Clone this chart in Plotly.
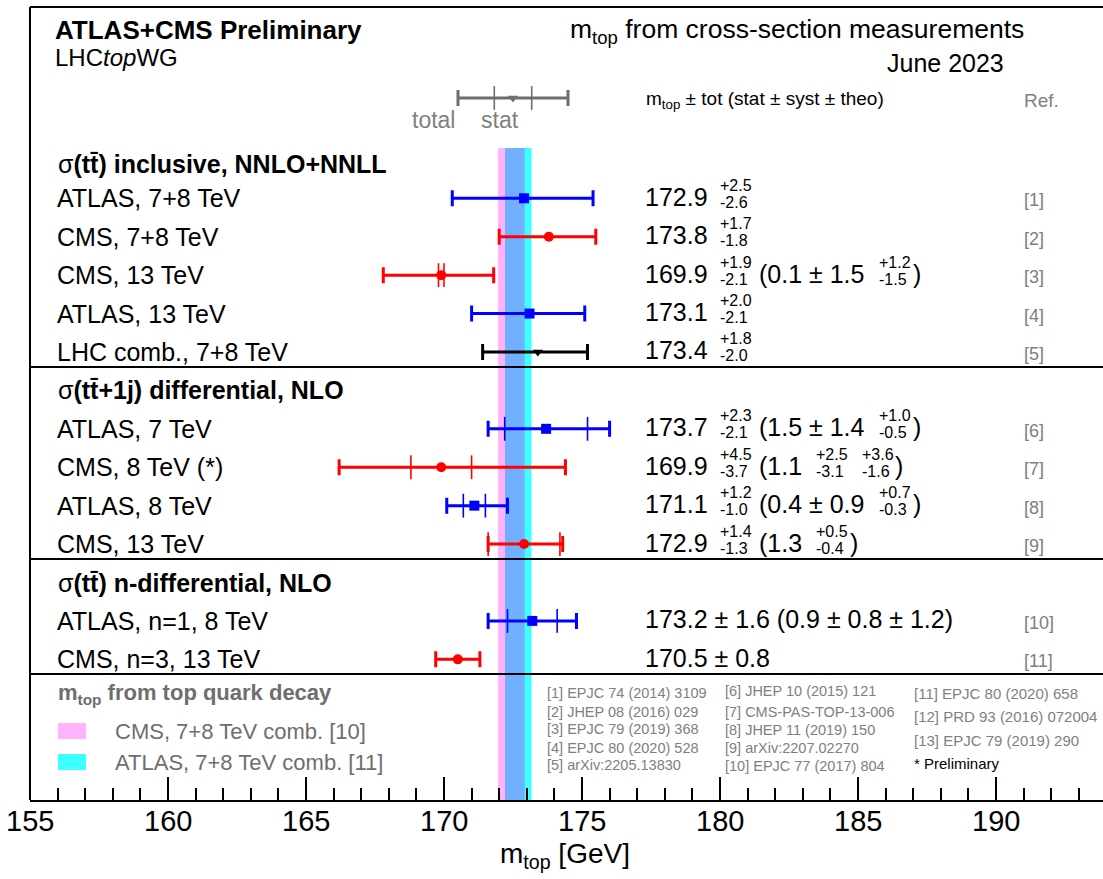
import plotly.graph_objects as go

# ---------------- measurements: m_top from cross sections ----------------
section_titles = [
    "σ<b>(tt̄) inclusive, NNLO+NNLL</b>",
    "σ<b>(tt̄+1j) differential, NLO</b>",
    "σ<b>(tt̄) n-differential, NLO</b>",
]
section_sizes = [5, 4, 2]

experiments = [
    "ATLAS, 7+8 TeV", "CMS, 7+8 TeV", "CMS, 13 TeV", "ATLAS, 13 TeV", "LHC comb., 7+8 TeV",
    "ATLAS, 7 TeV", "CMS, 8 TeV (*)", "ATLAS, 8 TeV", "CMS, 13 TeV",
    "ATLAS, n=1, 8 TeV", "CMS, n=3, 13 TeV",
]
ref_tags = ["[1]", "[2]", "[3]", "[4]", "[5]", "[6]", "[7]", "[8]", "[9]", "[10]", "[11]"]
mtop = [172.9, 173.8, 169.9, 173.1, 173.4, 173.7, 169.9, 171.1, 172.9, 173.2, 170.5]
tot_up = [2.5, 1.7, 1.9, 2.0, 1.8, 2.3, 4.5, 1.2, 1.4, 1.6, 0.8]
tot_dn = [2.6, 1.8, 2.1, 2.1, 2.0, 2.1, 3.7, 1.0, 1.3, 1.6, 0.8]
stat = [None, None, 0.1, None, None, 1.5, 1.1, 0.4, 1.3, 0.9, None]
syst_up = [None, None, 1.5, None, None, 1.4, 2.5, 0.9, None, 0.8, None]
syst_dn = [None, None, 1.5, None, None, 1.4, 3.1, 0.9, None, 0.8, None]
theo_up = [None, None, 1.2, None, None, 1.0, 3.6, 0.7, 0.5, 1.2, None]
theo_dn = [None, None, 1.5, None, None, 0.5, 1.6, 0.3, 0.4, 1.2, None]

# m_top from top-quark decay: combinations drawn as vertical bands
decay_labels = ["CMS, 7+8 TeV comb. [10]", "ATLAS, 7+8 TeV comb. [11]"]
decay_mtop = [172.44, 172.69]
decay_unc = [0.48, 0.48]

# bibliography
refs_col1 = ["[1] EPJC 74 (2014) 3109", "[2] JHEP 08 (2016) 029", "[3] EPJC 79 (2019) 368",
             "[4] EPJC 80 (2020) 528", "[5] arXiv:2205.13830"]
refs_col2 = ["[6] JHEP 10 (2015) 121", "[7] CMS-PAS-TOP-13-006", "[8] JHEP 11 (2019) 150",
             "[9] arXiv:2207.02270", "[10] EPJC 77 (2017) 804"]
refs_col3 = ["[11] EPJC 80 (2020) 658", "[12] PRD 93 (2016) 072004", "[13] EPJC 79 (2019) 290",
             "* Preliminary"]

x_tick_vals = [155, 160, 165, 170, 175, 180, 185, 190]

# ---------------- geometry ----------------
W, H = 1103, 879
ML, MR, MT, MB = 30, 0, 7, 79
PLOT_H = H - MT - MB
PX_PER_GEV = 27.6
X_MIN = 155.0
X_MAX = X_MIN + (W - ML - MR) / PX_PER_GEV
ROW0_PX, ROW_PX = 198.3, 38.42          # pixel position of first row and row pitch
Y_TOP = (MT - ROW0_PX) / ROW_PX
Y_BOT = (H - MB - ROW0_PX) / ROW_PX

FONT = "Liberation Sans"
GRAY = "#6e6e6e"
LIGHT_GRAY = "#808080"
COLORS = {"ATLAS": "#0000ff", "CMS": "#ff0000", "LHC": "#000000"}
SYMBOLS = {"ATLAS": "square", "CMS": "circle", "LHC": "triangle-down"}
SIZES = {"ATLAS": 10, "CMS": 10, "LHC": 9}


def gx(px):
    return X_MIN + (px - ML) / PX_PER_GEV


def gy(py):
    return (py - ROW0_PX) / ROW_PX


def py_paper(py):
    return (H - MB - py) / PLOT_H


# Arial/Liberation advance widths (em) for the glyphs used in the value column
ADV = {".": 0.278, " ": 0.278, "±": 0.584, "+": 0.584, "-": 0.333, "(": 0.333, ")": 0.333}


def text_width(s, size):
    return sum(ADV.get(c, 0.556) for c in s) * size


# row positions (in row units): header takes one slot, then its rows
header_slots, row_slots = [], []
slot = -1
for n in section_sizes:
    header_slots.append(slot)
    row_slots.extend(range(slot + 1, slot + 1 + n))
    slot += n + 1

fig = go.Figure()
annotations = []
shapes = []


def add_text(x, y, text, size, color="black", xanchor="left", yshift=0, xref="x", yref="y"):
    annotations.append(dict(
        x=x, y=y, xref=xref, yref=yref, text=text, showarrow=False,
        xanchor=xanchor, yanchor="middle", yshift=yshift,
        font=dict(family=FONT, size=size, color=color),
    ))


# ---- bands from top-quark decay ----
lo = [m - u for m, u in zip(decay_mtop, decay_unc)]
hi = [m + u for m, u in zip(decay_mtop, decay_unc)]
band_y0 = gy(148)
for x0, x1, col in [(lo[0], hi[0], "#ffb3ff"), (lo[1], hi[1], "#3dffff"),
                    (max(lo), min(hi), "#70b0ff")]:
    shapes.append(dict(type="rect", xref="x", yref="y", x0=x0, x1=x1, y0=band_y0, y1=Y_BOT,
                       fillcolor=col, line=dict(width=0), layer="below"))

# ---- measurement error bars ----
for i, name in enumerate(experiments):
    key = name.split(",")[0].split(" ")[0]
    col = COLORS[key]
    y = row_slots[i]
    if stat[i] is not None:
        fig.add_trace(go.Scatter(
            x=[mtop[i] - stat[i], mtop[i] + stat[i]], y=[y, y], mode="markers",
            marker=dict(symbol="line-ns", size=17, line=dict(width=1.6, color=col)),
            hoverinfo="skip", showlegend=False))
    fig.add_trace(go.Scatter(
        x=[mtop[i]], y=[y], mode="markers",
        marker=dict(symbol=SYMBOLS[key], size=SIZES[key], color=col),
        error_x=dict(type="data", symmetric=False, array=[tot_up[i]], arrayminus=[tot_dn[i]],
                     color=col, thickness=3, width=8),
        showlegend=False, name=name))

    # label on the left
    add_text(gx(55), y, name, 25)

    # value column: m_top +up -down (stat +- syst +- theo)
    cx = 643
    SUP, SUB, MAIN = 16, 16, 25

    def block(up, dn):
        global cx
        add_text(gx(cx), y, f"+{up:.1f}", SUP, yshift=13)
        add_text(gx(cx), y, f"-{dn:.1f}", SUB, yshift=-4)
        cx += max(text_width(f"+{up:.1f}", SUP), text_width(f"-{dn:.1f}", SUB))

    def inline(s):
        global cx
        add_text(gx(cx), y, s, MAIN, yshift=1.5)
        cx += text_width(s, MAIN)

    if tot_up[i] == tot_dn[i]:
        head = f"{mtop[i]:.1f} ± {tot_up[i]:.1f}"
        if stat[i] is not None:
            head += f" ({stat[i]:.1f} ± {syst_up[i]:.1f} ± {theo_up[i]:.1f})"
        inline(head)
    else:
        inline(f"{mtop[i]:.1f}")
        cx += 12
        block(tot_up[i], tot_dn[i])
        if stat[i] is not None:
            cx += 8
            s = f"({stat[i]:.1f}"
            if syst_up[i] is not None and syst_up[i] == syst_dn[i]:
                s += f" ± {syst_up[i]:.1f}"
                inline(s)
            else:
                inline(s)
                if syst_up[i] is not None:
                    cx += 14
                    block(syst_up[i], syst_dn[i])
            if theo_up[i] is not None:
                cx += 14
                block(theo_up[i], theo_dn[i])
            cx += 2
            inline(")")

    add_text(gx(1022), y, ref_tags[i], 18, color=LIGHT_GRAY, yshift=-2)

# ---- section headers and separators ----
for t, s in zip(section_titles, header_slots):
    add_text(gx(56), s, t, 25, yshift=(-4 if s < 0 else 0))
for py in [367, 559, 674]:
    shapes.append(dict(type="line", xref="paper", yref="y", x0=0, x1=1, y0=gy(py), y1=gy(py),
                       line=dict(color="black", width=2)))

# ---- total / stat key ----
key_y = gy(98)
kc, kt, ks = gx(513), gx(568) - gx(513), gx(531.7) - gx(513)
fig.add_trace(go.Scatter(x=[kc - ks, kc + ks], y=[key_y, key_y], mode="markers",
                         marker=dict(symbol="line-ns", size=17, line=dict(width=1.6, color=GRAY)),
                         hoverinfo="skip", showlegend=False))
fig.add_trace(go.Scatter(x=[kc], y=[key_y], mode="markers",
                         marker=dict(symbol="triangle-down", size=9, color=GRAY),
                         error_x=dict(type="data", array=[kt], color=GRAY, thickness=3, width=8),
                         hoverinfo="skip", showlegend=False))
add_text(gx(457), gy(120), "total", 23, color=LIGHT_GRAY, xanchor="right")
add_text(gx(500), gy(120), "stat", 23, color=LIGHT_GRAY, xanchor="center")

# ---- header texts ----
add_text(gx(53), gy(30), "<b>ATLAS+CMS Preliminary</b>", 26)
add_text(gx(53), gy(57), "LHC<i>top</i>WG", 24)
add_text(gx(568), gy(31), "m<sub>top</sub> from cross-section measurements", 26.5)
add_text(gx(1006), gy(63), "June 2023", 25, xanchor="right")
add_text(gx(644), gy(100), "m<sub>top</sub> ± tot (stat ± syst ± theo)", 19)
add_text(gx(1022), gy(100), "Ref.", 19, color=LIGHT_GRAY)

# ---- decay-band key ----
add_text(gx(56), gy(694), "<b>m<sub>top</sub> from top quark decay</b>", 22, color=GRAY)
for py, lab, col in [(731, decay_labels[0], "#ffb3ff"), (762, decay_labels[1], "#3dffff")]:
    shapes.append(dict(type="rect", xref="x", yref="y", x0=gx(58), x1=gx(86),
                       y0=gy(py - 8), y1=gy(py + 8), fillcolor=col, line=dict(width=0)))
    add_text(gx(113), gy(py), lab, 22, color=GRAY)

# ---- bibliography ----
for lines, px, pys, size in [
    (refs_col1, 545, [693, 712, 729, 748, 765], 14.5),
    (refs_col2, 723, [691, 712, 730, 748, 766], 14.5),
    (refs_col3, 912, [693, 716, 740, 763], 15),
]:
    for t, py in zip(lines, pys):
        add_text(gx(px), gy(py), t, size, color=("black" if t.startswith("*") else LIGHT_GRAY))

# ---- x tick labels and axis title (below the plotting area) ----
for v in x_tick_vals:
    add_text(v, py_paper(821), str(v), 29, xanchor="center", yref="paper")
add_text(gx(565), py_paper(855), "m<sub>top</sub> [GeV]", 28, xanchor="center", yref="paper")

# ---- frame ----
shapes.append(dict(type="line", xref="paper", yref="paper", x0=0, x1=0, y0=0, y1=1,
                   line=dict(color="black", width=2)))
shapes.append(dict(type="line", xref="paper", yref="paper", x0=0, x1=1, y0=1, y1=1,
                   line=dict(color="black", width=2)))

fig.update_layout(
    width=W, height=H,
    margin=dict(l=ML, r=MR, t=MT, b=MB, pad=0),
    paper_bgcolor="white", plot_bgcolor="white",
    showlegend=False,
    font=dict(family=FONT, color="black"),
    annotations=annotations,
    shapes=shapes,
    xaxis=dict(
        range=[X_MIN, X_MAX], showgrid=False, zeroline=False,
        showline=True, linecolor="black", linewidth=2,
        tickmode="array", tickvals=x_tick_vals, showticklabels=False,
        ticks="inside", ticklen=23, tickwidth=2, tickcolor="black",
        minor=dict(dtick=1, tick0=155, ticks="inside", ticklen=12, tickwidth=1.5,
                   tickcolor="black", showgrid=False),
        fixedrange=True,
    ),
    yaxis=dict(range=[Y_BOT, Y_TOP], visible=False, showgrid=False, zeroline=False,
               fixedrange=True),
)

fig.write_html("out.html")
